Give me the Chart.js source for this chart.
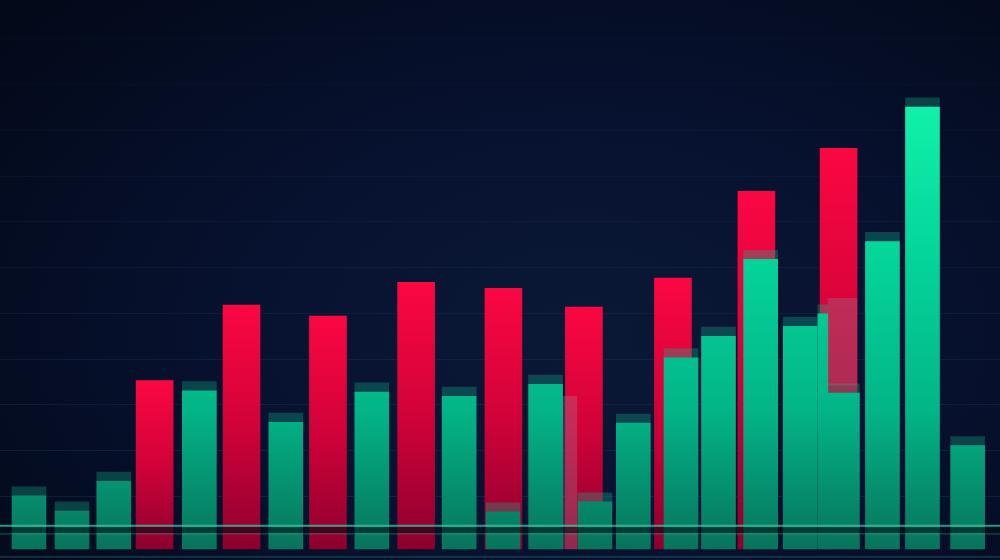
<!DOCTYPE html>
<html>
<head>
<meta charset="utf-8">
<script src="https://cdn.jsdelivr.net/npm/chart.js@4.4.1/dist/chart.umd.min.js"></script>
<style>
html,body{margin:0;padding:0;width:1000px;height:560px;overflow:hidden;
background:radial-gradient(ellipse 75% 85% at 58% 60%, #0a1836 0%, #071230 45%, #030919 100%);}
#chart{display:block}
</style>
</head>
<body>
<canvas id="chart" width="1000" height="560"></canvas>
<script>
/* ================================
   DATA
================================ */

// main red bars (x = period slot, y = height)
const redX = [2.95, 4.99, 7.02, 9.09, 11.14, 13.03, 15.12, 17.08, 19.01]
const redValues = [3.68, 5.33, 5.09, 5.83, 5.70, 5.29, 5.92, 7.82, 8.76]

// main green bars
const greenX = [0, 1.01, 1.99, 4.00, 6.03, 8.05, 10.10, 12.13, 14.19, 16.19, 18.11, 20.04, 20.98, 22.04]
const greenValues = [1.16, 0.83, 1.48, 3.46, 2.77, 3.43, 3.34, 3.60, 2.75, 4.65, 4.87, 6.72, 9.66, 2.26]

// green echo bars sitting in front of the red ones
const echoX = [11.13, 13.29, 15.31, 17.18, 19.10]
const echoValues = [0.81, 1.03, 4.18, 6.33, 3.41]

// thin green sliver next to the last red bar
const sliverX = [18.64]
const sliverValues = [5.14]

// pale translucent streaks [low, high]
const streakNarrowX = [12.70]
const streakNarrowRanges = [[0, 3.34]]
const streakWideX = [19.10]
const streakWideRanges = [[3.58, 5.48]]

// faint horizontal guide lines
const gridLevels = [1.15, 2.15, 3.15, 4.15, 5.15, 6.15, 7.15, 8.15, 9.15, 10.15, 11.15]

const CAP = 0.2

/* ================================
   HELPERS
================================ */

const pts = (xs, ys) => xs.map((x, i) => ({x: x, y: ys[i]}))
const caps = (xs, ys) => xs.map((x, i) => ({x: x, y: [ys[i], ys[i] + CAP]}))

function greenFill(ctx){
const chart = ctx.chart
const area = chart.chartArea
if(!area) return "#05c48f"
const y = chart.scales.y
const g = chart.ctx.createLinearGradient(0, y.getPixelForValue(10), 0, y.getPixelForValue(0))
g.addColorStop(0, "#12f4ab")
g.addColorStop(0.35, "#04d69a")
g.addColorStop(0.7, "#03b487")
g.addColorStop(1, "#07735b")
return g
}

function redFill(ctx){
const chart = ctx.chart
if(!chart.chartArea || !ctx.parsed) return "#e0063d"
const y = chart.scales.y
const top = y.getPixelForValue(ctx.parsed.y)
const bottom = y.getPixelForValue(0)
const g = chart.ctx.createLinearGradient(0, top, 0, bottom)
g.addColorStop(0, "#fb0742")
g.addColorStop(0.5, "#d10239")
g.addColorStop(1, "#8c002e")
return g
}

/* ================================
   BASE STRIPES
================================ */

const baseStripes = {
id:"baseStripes",
afterDatasetsDraw(chart){
const {ctx, chartArea, scales:{y}} = chart
const l = chartArea.left, w = chartArea.right - chartArea.left
ctx.save()
// dark band across the bars
ctx.fillStyle = "rgba(2,14,22,0.6)"
const b1 = y.getPixelForValue(0.48), b2 = y.getPixelForValue(0.35)
ctx.fillRect(l, b1, w, b2 - b1)
// bright teal line
ctx.fillStyle = "rgba(45,215,170,0.7)"
ctx.fillRect(l, y.getPixelForValue(0.53), w, 2)
// thin teal line under band
ctx.fillStyle = "rgba(40,190,150,0.45)"
ctx.fillRect(l, y.getPixelForValue(0.34), w, 1)
// bottom line
ctx.fillStyle = "rgba(30,120,120,0.35)"
ctx.fillRect(l, y.getPixelForValue(-0.15), w, 2)
ctx.restore()
}
}

/* ================================
   CHART
================================ */

const chart = new Chart(
document.getElementById("chart"),
{
type:"bar",
data:{
datasets:[
{
label:"streak narrow",
data:pts(streakNarrowX, streakNarrowRanges),
backgroundColor:"rgba(160,150,165,0.28)",
barThickness:14,
grouped:false,
order:0
},
{
label:"streak wide",
data:pts(streakWideX, streakWideRanges),
backgroundColor:"rgba(130,130,145,0.32)",
barThickness:29,
grouped:false,
order:0
},
{
label:"green",
data:pts(greenX, greenValues).concat(pts(echoX, echoValues)),
backgroundColor:greenFill,
barThickness:34,
grouped:false,
order:1
},
{
label:"sliver",
data:pts(sliverX, sliverValues),
backgroundColor:greenFill,
barThickness:10,
grouped:false,
order:1
},
{
label:"caps",
data:caps(greenX, greenValues).concat(caps(echoX, echoValues)),
backgroundColor:"rgba(20,180,140,0.32)",
barThickness:34,
grouped:false,
order:2
},
{
label:"sliver cap",
data:caps(sliverX, sliverValues),
backgroundColor:"rgba(20,180,140,0.32)",
barThickness:10,
grouped:false,
order:2
},
{
label:"red",
data:pts(redX, redValues),
backgroundColor:redFill,
barThickness:37,
grouped:false,
order:3
}
]
},
options:{
responsive:false,
animation:false,
devicePixelRatio:1,
layout:{padding:0},
plugins:{
legend:{display:false},
tooltip:{enabled:false}
},
scales:{
x:{
type:"linear",
offset:false,
min:-0.681,
max:22.80,
display:false
},
y:{
min:-0.24,
max:12,
afterBuildTicks:scale=>{
scale.ticks = gridLevels.map(v=>({value:v}))
},
ticks:{display:false},
border:{display:false},
grid:{
drawTicks:false,
lineWidth:1,
color:ctx=>{
const v = ctx.tick ? ctx.tick.value : 0
const a = Math.max(0.04, 0.2 - v * 0.015)
return "rgba(70,110,150," + a.toFixed(3) + ")"
}
}
}
}
},
plugins:[baseStripes]
})
</script>
</body>
</html>
